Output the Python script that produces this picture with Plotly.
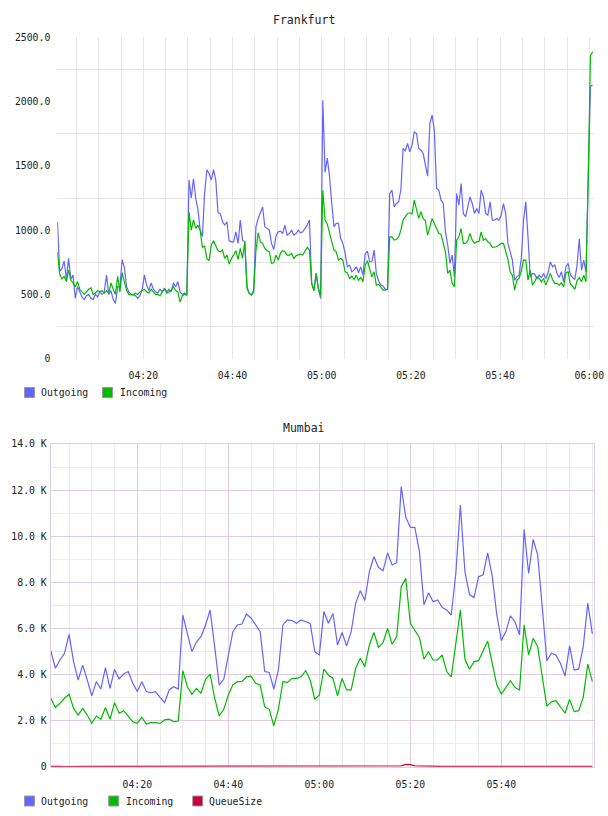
import pandas as pd
import plotly.graph_objects as go

# ---------------- data ----------------
series_names = ["Outgoing", "Incoming", "QueueSize"]

fr_start = "2024-01-01 04:00:45"   # Frankfurt: one sample every 30 s
fr_out = [1065, 680, 700, 760, 620, 780, 620, 650, 470, 560,
          520, 480, 460, 490, 500, 470, 460, 500, 480, 520,
          500, 520, 650, 500, 530, 460, 430, 560, 560, 770,
          710, 560, 520, 500, 500, 490, 470, 490, 540, 650,
          570, 530, 590, 540, 520, 510, 540, 520, 540, 520,
          540, 520, 590, 560, 600, 520, 500, 510, 490, 1390,
          1250, 1400, 1250, 1160, 1000, 950, 1290, 1470, 1440, 1390,
          1470, 1390, 1135, 1130, 1065, 1040, 1065, 917, 909, 909,
          987, 897, 1078, 922, 909, 560, 508, 495, 534, 1026,
          1091, 1130, 1180, 1026, 1013, 1000, 897, 850, 953, 987,
          992, 974, 1039, 961, 974, 1000, 961, 974, 1000, 979,
          987, 1013, 1039, 1078, 586, 534, 664, 547, 469, 2010,
          1450, 1560, 1420, 1207, 1026, 1052, 1052, 935, 897, 819,
          715, 728, 676, 689, 715, 668, 715, 650, 819, 837,
          754, 754, 845, 663, 606, 573, 565, 539, 539, 1285,
          1311, 1181, 1207, 1220, 1316, 1635, 1617, 1674, 1609, 1661,
          1765, 1752, 1635, 1622, 1596, 1506, 1420, 1830, 1895, 1778,
          1324, 1311, 1233, 1207, 987, 884, 741, 806, 637, 1285,
          1194, 1363, 1130, 1104, 1181, 1259, 1207, 1130, 1168, 1130,
          1311, 1259, 1130, 1117, 1220, 1078, 1078, 1091, 1078, 1117,
          1207, 1130, 897, 832, 767, 611, 637, 650, 780, 1078,
          1220, 948, 637, 663, 658, 624, 650, 632, 663, 624,
          668, 754, 715, 728, 663, 632, 676, 598, 715, 741,
          650, 632, 616, 728, 930, 689, 767, 676, 1389, 2120,
          2128]
fr_in = [830, 660, 620, 640, 600, 690, 610, 590, 560, 600,
         540, 520, 500, 520, 540, 550, 500, 510, 530, 520,
         530, 510, 530, 510, 590, 540, 500, 640, 520, 670,
         590, 530, 500, 500, 495, 510, 500, 520, 530, 540,
         520, 510, 540, 520, 500, 500, 490, 520, 550, 510,
         520, 530, 560, 530, 520, 440, 490, 500, 500, 1140,
         1000, 1080, 1013, 1039, 1000, 866, 875, 780, 762, 884,
         918, 875, 840, 832, 845, 780, 806, 736, 780, 806,
         840, 772, 858, 780, 909, 547, 508, 495, 521, 840,
         980, 909, 897, 858, 840, 832, 742, 746, 806, 767,
         819, 840, 832, 806, 806, 819, 780, 800, 806, 814,
         806, 832, 866, 845, 586, 527, 664, 547, 495, 1310,
         1080, 1047, 974, 922, 845, 832, 767, 780, 767, 676,
         668, 624, 642, 616, 650, 611, 632, 598, 728, 762,
         689, 637, 676, 573, 580, 552, 534, 534, 539, 948,
         948, 922, 927, 948, 1000, 1078, 1109, 1130, 1135, 1125,
         1233, 1156, 1091, 1143, 1091, 1073, 961, 1026, 1091, 1052,
         1013, 974, 969, 897, 832, 663, 689, 586, 560, 922,
         948, 1013, 897, 897, 917, 974, 922, 897, 910, 910,
         987, 922, 935, 910, 897, 866, 866, 871, 884, 897,
         897, 832, 772, 676, 650, 534, 611, 624, 684, 767,
         767, 611, 689, 572, 598, 637, 624, 598, 624, 572,
         611, 663, 616, 586, 586, 572, 590, 560, 668, 676,
         580, 565, 539, 606, 632, 598, 650, 598, 1389, 2355,
         2388]

mu_start = "2024-01-01 04:01:00"   # Mumbai: one sample every minute
mu_out = [5030, 4270, 4630, 4920, 5740, 4560, 3760, 4410, 3760, 3070,
          3690, 3370, 4300, 3400, 4220, 3810, 4020, 4130, 3620, 3260,
          3690, 3260, 3210, 3260, 3010, 2780, 3330, 3470, 3370, 6580,
          5780, 4990, 5420, 5640, 6150, 6800, 5210, 3550, 3790, 4840,
          5860, 6150, 6190, 6620, 6440, 6150, 5860, 4130, 4090, 3370,
          4190, 6150, 6370, 6340, 6220, 6370, 6290, 6220, 4990, 4850,
          6730, 6220, 6650, 5280, 5820, 5240, 5860, 7090, 7640, 7210,
          8460, 9110, 8650, 8500, 9280, 8750, 8850, 12150, 10820, 10390,
          10370, 9330, 7020, 7550, 7160, 7230, 6910, 6800, 6580, 8380,
          11350, 8460, 7470, 7340, 8240, 8320, 9280, 8270, 6600, 5470,
          5860, 6540, 6290, 5720, 10300, 8380, 9860, 9180, 6900, 4600,
          4920, 4850, 4480, 3930, 5240, 4190, 4230, 5210, 7090, 5760]
mu_in = [2970, 2570, 2750, 2970, 3140, 2530, 2240, 2530, 2240, 1880,
         2200, 2060, 2570, 2060, 2780, 2320, 2430, 2200, 1950, 1880,
         2140, 1850, 1910, 1910, 1880, 2030, 2060, 1950, 1980, 4170,
         3470, 3140, 3400, 3180, 3790, 4020, 2970, 2200, 2490, 3110,
         3550, 3690, 3690, 3900, 3930, 3620, 3550, 2600, 2490, 1770,
         2490, 3690, 3660, 3830, 3830, 3900, 4170, 3760, 2920, 3110,
         4230, 3980, 3830, 3070, 3830, 3330, 3330, 4270, 4700, 4340,
         5280, 5820, 5180, 5380, 6000, 5310, 5640, 7810, 8170, 6220,
         5900, 5610, 4660, 4990, 4630, 4630, 4850, 4120, 3900, 5350,
         6800, 4660, 4230, 4560, 4600, 5030, 5450, 4480, 3550, 3150,
         3440, 3730, 3440, 3330, 6150, 4850, 5570, 5210, 3900, 2630,
         2820, 2860, 2600, 2320, 2920, 2390, 2430, 3010, 4450, 3690]
mu_queue = [10, 20, 10, 0, 10, 20, 10, 10, 10, 10,
            10, 10, 10, 10, 10, 10, 10, 20, 30, 20,
            10, 10, 10, 10, 20, 20, 30, 20, 10, 10,
            10, 10, 10, 10, 10, 10, 10, 10, 10, 10,
            20, 30, 40, 40, 40, 40, 40, 40, 40, 40,
            30, 20, 10, 10, 10, 10, 10, 20, 10, 10,
            10, 10, 10, 20, 20, 10, 10, 10, 10, 10,
            10, 10, 10, 10, 10, 10, 20, 40, 100, 90,
            40, 30, 30, 30, 20, 10, 10, 10, 10, 10,
            10, 10, 20, 10, 10, 20, 10, 10, 20, 10,
            10, 10, 10, 10, 10, 20, 10, 10, 10, 10,
            10, 10, 10, 10, 10, 10, 10, 10, 10, 10]

fr_xticks = ["04:20", "04:40", "05:00", "05:20", "05:40", "06:00"]
mu_xticks = ["04:20", "04:40", "05:00", "05:20", "05:40"]
fr_yticks = [0, 500, 1000, 1500, 2000, 2500]
fr_yticklabels = ["0", "500.0", "1000.0", "1500.0", "2000.0", "2500.0"]
mu_yticks = [0, 2000, 4000, 6000, 8000, 10000, 12000, 14000]
mu_yticklabels = ["0", "2.0 K", "4.0 K", "6.0 K", "8.0 K", "10.0 K", "12.0 K", "14.0 K"]

# ---------------- style ----------------
W, H = 608, 816
def px(x): return x / W
def py(y): return 1 - y / H

DAY = "2024-01-01 "
OUT_C, IN_C, Q_C = "#6464ff", "#00bb00", "#c8003c"
colors = [OUT_C, IN_C, Q_C]
GRID = "#e6e6e6"
PINK = "#e2cce2"
MINOR = "#ececec"
FONT = "DejaVu Sans Mono"
TXT = "#222222"

fr_t = pd.date_range(fr_start, periods=len(fr_out), freq="30s")
mu_t = pd.date_range(mu_start, periods=len(mu_out), freq="1min")
five_min = pd.date_range(DAY + "04:05", DAY + "06:00", freq="5min")

fig = go.Figure()
fig.add_trace(go.Scatter(x=fr_t, y=fr_out, mode="lines", name=series_names[0],
                         line=dict(color=OUT_C, width=1.2), xaxis="x", yaxis="y", showlegend=False))
fig.add_trace(go.Scatter(x=fr_t, y=fr_in, mode="lines", name=series_names[1],
                         line=dict(color=IN_C, width=1.2), xaxis="x", yaxis="y", showlegend=False))
fig.add_trace(go.Scatter(x=mu_t, y=mu_out, mode="lines", name=series_names[0],
                         line=dict(color=OUT_C, width=1.2), xaxis="x2", yaxis="y2", showlegend=False))
fig.add_trace(go.Scatter(x=mu_t, y=mu_in, mode="lines", name=series_names[1],
                         line=dict(color=IN_C, width=1.2), xaxis="x2", yaxis="y2", showlegend=False))
fig.add_trace(go.Scatter(x=mu_t, y=mu_queue, mode="lines", name=series_names[2],
                         line=dict(color=Q_C, width=1.2), xaxis="x2", yaxis="y2", showlegend=False))

tickfont = dict(family=FONT, size=9.8, color=TXT)

fig.update_layout(
    width=W, height=H, autosize=False,
    margin=dict(l=0, r=0, t=0, b=0),
    paper_bgcolor="white", plot_bgcolor="white",
    showlegend=False,
    xaxis=dict(
        domain=[px(57.3), px(594)], anchor="y", type="date", automargin=False,
        range=[DAY + "04:00:43", DAY + "06:01:03"],
        tickmode="array", tickvals=[DAY + t for t in fr_xticks], ticktext=fr_xticks,
        showgrid=True, gridcolor=GRID, gridwidth=1,
        minor=dict(tickmode="array", tickvals=list(five_min), showgrid=True, gridcolor=GRID, gridwidth=1),
        zeroline=False, showline=False, ticks="", tickfont=tickfont, ticklabelstandoff=9,
    ),
    yaxis=dict(
        domain=[py(358.7), py(37.3)], anchor="x", automargin=False,
        range=[0, 2500],
        tickmode="array", tickvals=fr_yticks, ticktext=fr_yticklabels,
        showgrid=False,
        minor=dict(tickmode="array", tickvals=[250, 750, 1250, 1750, 2250], showgrid=True,
                   gridcolor=GRID, gridwidth=1),
        zeroline=False, showline=False, ticks="", tickfont=tickfont, ticklabelstandoff=6,
    ),
    xaxis2=dict(
        domain=[px(50.7), px(594)], anchor="y2", type="date", automargin=False,
        range=[DAY + "04:00:58", DAY + "06:00:22"],
        tickmode="array", tickvals=[DAY + t for t in mu_xticks], ticktext=mu_xticks,
        showgrid=True, gridcolor=PINK, gridwidth=1,
        minor=dict(tickmode="array", tickvals=list(five_min), showgrid=True, gridcolor=MINOR, gridwidth=1),
        zeroline=False, showline=True, mirror=True, linecolor=PINK, linewidth=1,
        ticks="", tickfont=tickfont, ticklabelstandoff=9,
    ),
    yaxis2=dict(
        domain=[py(766.7), py(444)], anchor="x2", automargin=False,
        range=[0, 14000],
        tickmode="array", tickvals=mu_yticks, ticktext=mu_yticklabels,
        showgrid=True, gridcolor=PINK, gridwidth=1,
        minor=dict(tickmode="array", tickvals=[1000, 3000, 5000, 7000, 9000, 11000, 13000],
                   showgrid=True, gridcolor=MINOR, gridwidth=1),
        zeroline=False, showline=True, mirror=True, linecolor=PINK, linewidth=1,
        ticks="", tickfont=tickfont, ticklabelstandoff=1,
    ),
)

annotations = [
    dict(text="Frankfurt", x=px(304), y=py(20), xref="paper", yref="paper",
         showarrow=False, xanchor="center", yanchor="middle",
         font=dict(family=FONT, size=11.5, color=TXT)),
    dict(text="Mumbai", x=px(304), y=py(428), xref="paper", yref="paper",
         showarrow=False, xanchor="center", yanchor="middle",
         font=dict(family=FONT, size=11.5, color=TXT)),
]
shapes = []

def legend_item(name, color, sx, tx, cy):
    shapes.append(dict(type="rect", xref="paper", yref="paper",
                       x0=px(sx), x1=px(sx + 10), y0=py(cy + 5), y1=py(cy - 5),
                       fillcolor=color, line=dict(color="#999999", width=1)))
    annotations.append(dict(text=name, x=px(tx), y=py(cy), xref="paper", yref="paper",
                            showarrow=False, xanchor="left", yanchor="middle",
                            font=dict(family=FONT, size=9.8, color=TXT)))

legend_item(series_names[0], colors[0], 24.5, 38.5, 392.5)
legend_item(series_names[1], colors[1], 102.5, 117.5, 392.5)
legend_item(series_names[0], colors[0], 24.5, 38.5, 801)
legend_item(series_names[1], colors[1], 108.7, 123.5, 801)
legend_item(series_names[2], colors[2], 192.7, 206.5, 801)

fig.update_layout(annotations=annotations, shapes=shapes)
fig.write_html("out.html")
